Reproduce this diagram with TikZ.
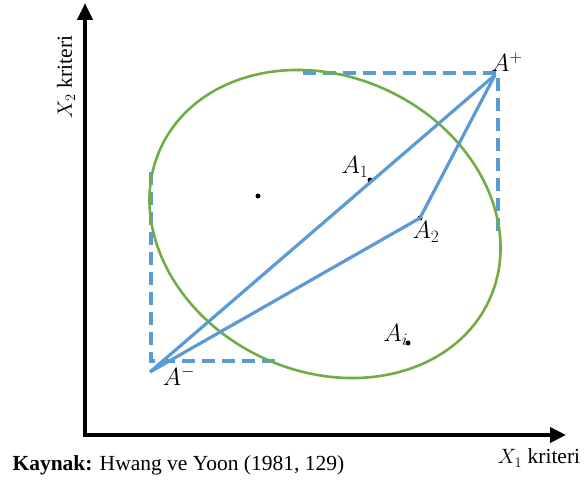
\documentclass[tikz,border=0pt]{standalone}
\usepackage{fontspec}
\setmainfont{Liberation Serif}
\usetikzlibrary{arrows.meta}
\definecolor{lineblue}{HTML}{5B9BD5}
\definecolor{ellgreen}{HTML}{70AD47}
\begin{document}
\begin{tikzpicture}[x=1pt, y=1pt, font=\fontsize{21.5}{25}\selectfont,
    axis/.style={line width=4.5pt, line join=miter},
    link/.style={lineblue, line width=3.2pt, line join=round},
    bound/.style={lineblue, line width=3.2pt, dash pattern=on 13pt off 7pt},
    dot/.style={circle, fill=black, inner sep=0pt, minimum size=5pt},
    lbl/.style={font=\fontsize{23}{26}\selectfont}]
    \useasboundingbox (0,0) rectangle (584,485);

    % Axes
    \coordinate (ytop) at (85,482);
    \coordinate (O) at (85,50);
    \coordinate (xend) at (566,50);
    \draw[axis, {Triangle[length=17pt, width=15pt]}-{Triangle[length=16pt, width=15pt]}] (ytop) -- (O) -- (xend);
    \node[rotate=90] (ylab) at (66,408) {$X_2$ kriteri};
    \node (xlab) at (539,27) {$X_1$ kriteri};

    % Ideal and anti-ideal points
    \coordinate (Aplus) at (495,410);
    \coordinate (Aminus) at (150,113);
    \node[dot] (A1) at (370,305) {};
    \node[dot] (A2) at (420,267) {};
    \node[dot] (Ai) at (408,142) {};
    \node[dot] (C) at (258,289) {};

    % Bounds
    \draw[bound] (303,412) -- (498,412) -- (498,248);
    \draw[bound] (151,313) -- (151,124) -- (276,124);

    % Ellipse
    \draw[ellgreen, line width=2.6pt, rotate around={-25:(325,261)}] (325,261) ellipse (181pt and 147.5pt);

    % Links
    \draw[link] (Aminus) -- (Aplus);
    \draw[link] (Aminus) -- (A2.center) -- (Aplus);

    % Labels
    \node[lbl] (lAplus) at (507,423) {$A^+$};
    \node[lbl] (lAminus) at (179,109) {$A^-$};
    \node[lbl] (lA1) at (355,318) {$A_1$};
    \node[lbl] (lA2) at (426,253) {$A_2$};
    \node[lbl] (lAi) at (396,150) {$A_i$};

    % Source
    \node[anchor=west] (src) at (9,20) {\textbf{Kaynak:} Hwang ve Yoon (1981, 129)};
\end{tikzpicture}
\end{document}
